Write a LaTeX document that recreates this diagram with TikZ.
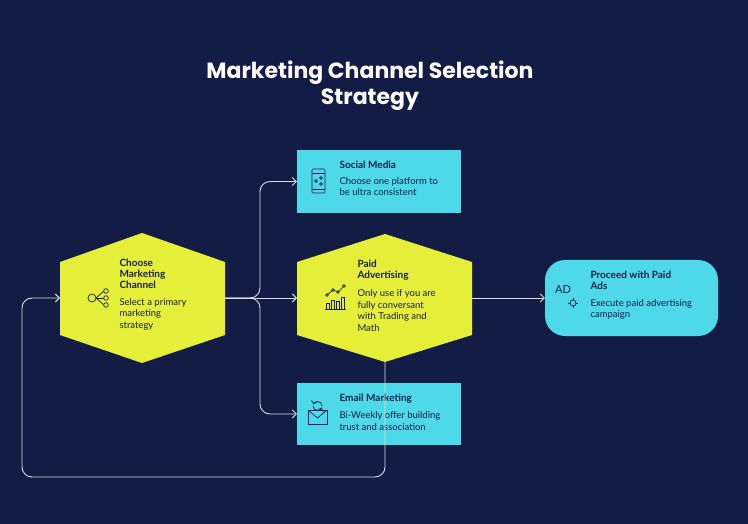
\documentclass[tikz,border=0pt]{standalone}
\usepackage{fontspec}
\setmainfont{Lato}
\newfontfamily\titlefont{Poppins}
\usetikzlibrary{arrows.meta}
\usetikzlibrary{positioning}
\definecolor{bgnavy}{HTML}{121C45}
\definecolor{hexyellow}{HTML}{E5EE38}
\definecolor{boxcyan}{HTML}{4DD9E8}
\definecolor{inkdark}{HTML}{16204A}
\tikzset{
  flow/.style={draw=white!85!bgnavy, line width=0.9pt, rounded corners=10pt, -{Straight Barb[length=4pt,width=8pt]}},
  head/.style={font=\bfseries\fontsize{10}{11}\selectfont, text=inkdark, align=left, anchor=north west},
  body/.style={font=\fontsize{9.5}{11.5}\selectfont, text=inkdark, align=left, anchor=north west},
  icon/.style={draw=inkdark, line width=0.7pt},
  pin/.style={inner sep=0pt, minimum size=0pt}
}
\begin{document}
\begin{tikzpicture}[x=1pt,y=-1pt]
    \useasboundingbox[fill=bgnavy] (0,0) rectangle (748,524);

    % title
    \node[font=\titlefont\bfseries\fontsize{22}{26}\selectfont, text=white, align=center] (title) at (370,86) {Marketing Channel Selection\\Strategy};

    % hexagons
    \fill[hexyellow] (60,262) -- (142,233) -- (225,262) -- (225,335) -- (142,363) -- (60,335) -- cycle;
    \fill[hexyellow] (297,262) -- (385,234) -- (472,262) -- (472,335) -- (385,362) -- (297,335) -- cycle;
    \coordinate (chooseL) at (60,298);
    \coordinate (chooseR) at (225,298);
    \coordinate (paidL) at (297,298);
    \coordinate (paidR) at (472,298);
    \coordinate (paidB) at (385,362);

    % boxes
    \node[fill=boxcyan, minimum width=164pt, minimum height=63pt, inner sep=0pt] (social) at (379,181.5) {};
    \node[fill=boxcyan, minimum width=164pt, minimum height=62pt, inner sep=0pt] (email) at (379,414) {};
    \node[fill=boxcyan, rounded corners=20pt, minimum width=173pt, minimum height=76pt, inner sep=0pt] (ads) at (631.5,298) {};

    % texts
    \node[head] (chooseH) at (116,256) {Choose\\Marketing\\Channel};
    \node[body, below=2pt of chooseH.south west, anchor=north west] (chooseT) {Select a primary\\marketing\\strategy};
    \node[head] (paidH) at (354,257) {Paid\\Advertising};
    \node[body, below=2pt of paidH.south west, anchor=north west] (paidT) {Only use if you are\\fully conversant\\with Trading and\\Math};
    \node[head] (socialH) at (336,158) {Social Media};
    \node[body, below=1pt of socialH.south west, anchor=north west] (socialT) {Choose one platform to\\be ultra consistent};
    \node[head] (emailH) at (336,391) {Email Marketing};
    \node[body, below=1pt of emailH.south west, anchor=north west] (emailT) {Bi-Weekly offer building\\trust and association};
    \node[head] (adsH) at (587,268) {Proceed with Paid\\Ads};
    \node[body, below=2pt of adsH.south west, anchor=north west] (adsT) {Execute paid advertising\\campaign};

    % icons
    \draw[icon] (92,298) circle (4);
    \foreach \yy in {-7,0,7} {\draw[icon] (96,298) -- (104,298+\yy); \draw[icon,fill=hexyellow] (106,298+\yy) circle (2.3);}
    \draw[icon, rounded corners=1pt] (312,169) rectangle (325,193);
    \draw[icon] (312,173) -- (325,173) (312,189) -- (325,189);
    \draw[icon] (316,181) circle (1.3) (321,178) circle (1.3) (321,184) circle (1.3);
    \foreach \xx/\hh in {326/6,331/9,336/8,341/12} {\draw[icon] (\xx,309) rectangle (\xx+3,309-\hh);}
    \draw[icon] (325,309.5) -- (346,309.5);
    \draw[icon] (327,295) -- (333,290) -- (338,292) -- (344,286);
    \draw[icon, fill=hexyellow] (327,295) circle (1.3) (333,290) circle (1.3) (338,292) circle (1.3) (344,286) circle (1.3);
    \draw[icon] (308,410) rectangle (327,424);
    \draw[icon] (308,410) -- (317.5,418) -- (327,410);
    \draw[icon, ->] (313,406) arc (180:20:4.5);
    \draw[icon, ->] (322,406) arc (0:-160:4.5);
    \node[font=\fontsize{11}{11}\selectfont, text=inkdark] (adsIcon) at (563,290) {AD};
    \draw[icon] (573,303) circle (3);
    \draw[icon] (573,298) -- (573,300) (573,306) -- (573,308) (568,303) -- (570,303) (576,303) -- (578,303);

    % connectors
    \draw[flow] (chooseR) -- (260,298) |- (social.west);
    \draw[flow] (chooseR) -- (260,298) |- (email.west);
    \draw[flow] (chooseR) -- (paidL);
    \draw[flow] (paidR) -- (ads.west);
    \draw[flow] (paidB) -- (385,477) -- (22,477) -- (22,298) -- (chooseL);
\end{tikzpicture}
\end{document}
